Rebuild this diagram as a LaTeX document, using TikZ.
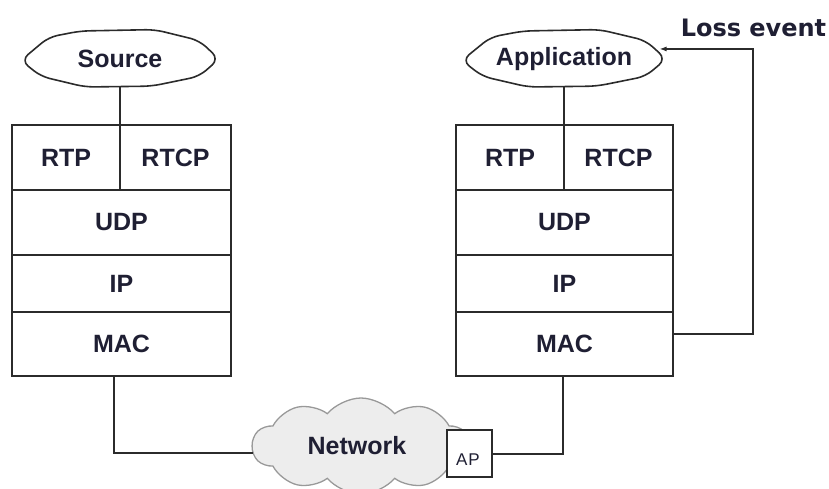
\documentclass[tikz,border=0pt]{standalone}
\usepackage{fontspec}
\setmainfont{Liberation Sans}
\newfontfamily\lossfont{DejaVu Sans}
\usetikzlibrary{shapes.symbols,shapes.geometric,arrows.meta,calc}
\definecolor{linec}{HTML}{2B2B2B}
\definecolor{txt}{HTML}{1F1F33}
\begin{document}
\begin{tikzpicture}[x=1pt,y=-1pt,
  cell/.style={draw=linec, line width=2pt, inner sep=0pt, outer sep=0pt,
    text=txt, font=\fontsize{25}{25}\selectfont\bfseries},
  endpoint/.style={ellipse, inner sep=0pt,
    text=txt, font=\fontsize{25}{25}\selectfont\bfseries},
  octo/.style={draw=linec, line width=1.6pt, line join=round, rounded corners=9pt},
  wire/.style={draw=linec, line width=2pt}
]
\useasboundingbox (0,0) rectangle (829,489);

% left stack
\node[cell, minimum width=108pt, minimum height=65pt] (rtpL) at (66,157.5) {RTP};
\node[cell, minimum width=111pt, minimum height=65pt] (rtcpL) at (175.5,157.5) {RTCP};
\node[cell, minimum width=219pt, minimum height=65pt] (udpL) at (121.5,222.5) {UDP};
\node[cell, minimum width=219pt, minimum height=57pt] (ipL) at (121.5,283.5) {IP};
\node[cell, minimum width=219pt, minimum height=64pt] (macL) at (121.5,344) {MAC};

% right stack
\node[cell, minimum width=108pt, minimum height=65pt] (rtpR) at (510,157.5) {RTP};
\node[cell, minimum width=109pt, minimum height=65pt] (rtcpR) at (618.5,157.5) {RTCP};
\node[cell, minimum width=217pt, minimum height=65pt] (udpR) at (564.5,222.5) {UDP};
\node[cell, minimum width=217pt, minimum height=57pt] (ipR) at (564.5,283.5) {IP};
\node[cell, minimum width=217pt, minimum height=64pt] (macR) at (564.5,344) {MAC};

% end points (polygonal ellipses)
\node[endpoint, minimum width=198pt, minimum height=56pt] (src) at (120,59) {Source};
\node[endpoint, minimum width=204pt, minimum height=56pt] (app) at (564,59) {Application};
\foreach \n/\w in {src/99,app/102}{
  \begin{scope}[shift={(\n.center)}, x=\w pt, y=28pt]
    \draw[octo] (-1,-0.05) -- (-0.72,0.78) -- (-0.4,1) -- (0.35,1.05) -- (0.8,0.66)
      -- (1,0) -- (0.8,-0.62) -- (0.32,-0.97) -- (-0.35,-1) -- (-0.8,-0.62) -- cycle;
  \end{scope}
}

\draw[wire] (src.south) -- (rtpL.north east);
\draw[wire] (app.south) -- (rtpR.north east);

% network
\node[cloud, cloud puffs=10, cloud puff arc=100, aspect=2.3, draw=gray!80, line width=1.3pt,
  fill=gray!14, minimum width=217pt, minimum height=96pt, inner sep=0pt,
  text=txt, font=\fontsize{25}{25}\selectfont\bfseries] (net) at (361,446) {\raisebox{-1pt}{Network}\hspace*{8pt}};
\node[draw=linec, fill=white, line width=1.7pt, minimum width=45pt, minimum height=47pt,
  inner sep=0pt] (ap) at (469.5,453.5) {};
\node[text=txt, font=\fontsize{17}{17}\selectfont, inner sep=0pt] (aptext) at ($(ap.center)+(-1.5,6.5)$) {A\kern1ptP};

\coordinate (netIn) at ($(net.west)+(2,7)$);
\draw[wire] ($(macL.south)+(-8,0)$) |- (netIn);
\draw[wire] (ap.east) -| ($(macR.south)+(-2,0)$);

% loss event feedback
\coordinate (lossA) at (673,334);
\coordinate (lossX) at (753,334);
\draw[wire, line width=1.8pt, -{Latex[length=7pt,width=5pt]}] (lossA) -- (lossX) |- (app.6);
\node[text=txt, font=\lossfont\bfseries\fontsize{24}{24}\selectfont, inner sep=0pt] (loss) at (753.5,28) {Loss event};
\end{tikzpicture}
\end{document}
